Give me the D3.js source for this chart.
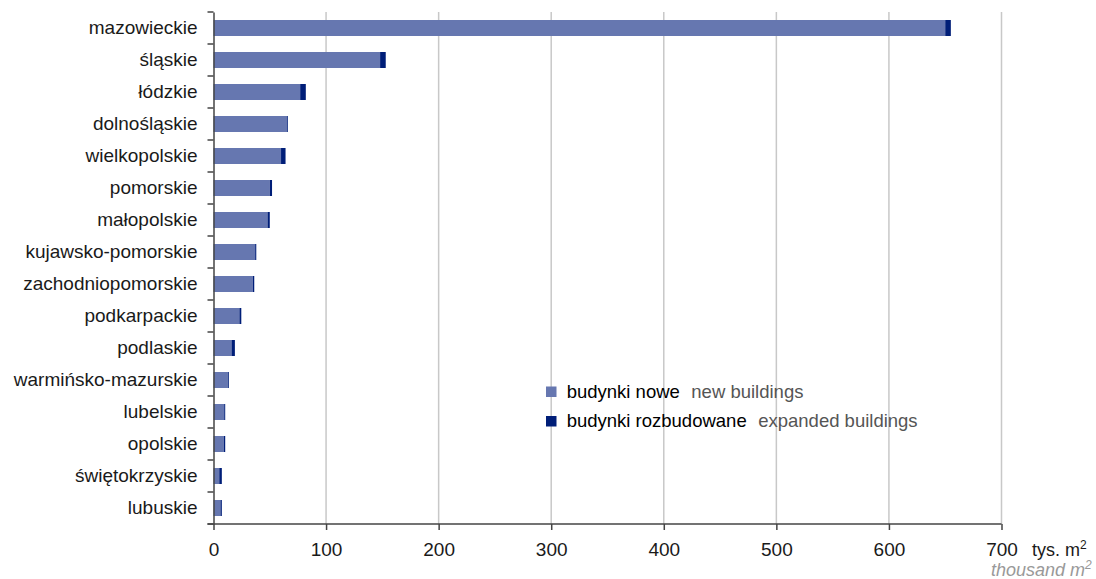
<!DOCTYPE html>
<html>
<head>
<meta charset="utf-8">
<script src="https://cdn.jsdelivr.net/npm/d3@7"></script>
<style>
  body { margin: 0; background: #fff; }
  svg { display: block; font-family: "Liberation Sans", Arial, sans-serif; }
</style>
</head>
<body>
<div id="chart"></div>
<script>
// voivodeships, top to bottom
let regions = ["mazowieckie", "śląskie", "łódzkie", "dolnośląskie", "wielkopolskie",
    "pomorskie", "małopolskie", "kujawsko-pomorskie", "zachodniopomorskie", "podkarpackie",
    "podlaskie", "warmińsko-mazurskie", "lubelskie", "opolskie", "świętokrzyskie", "lubuskie"];
// tys. m2
let newBuildings = [650, 148, 77, 65, 60, 50, 48, 37, 35, 23, 16, 12.7, 9.5, 9.2, 5.1, 6.2];
let expandedBuildings = [5, 5, 5, 1, 4, 2, 2, 1, 1.2, 1.7, 3, 0.9, 0.9, 1.2, 2.3, 1.2];
let xTicks = [0, 100, 200, 300, 400, 500, 600, 700];

let legendItems = [
    {pl: "budynki nowe", en: "new buildings", color: "#6677b0"},
    {pl: "budynki rozbudowane", en: "expanded buildings", color: "#001e78"}
];

let W = 1096, H = 579;
let margin = {top: 12, right: 94.5, bottom: 55, left: 213.5};
let width = W - margin.left - margin.right;
let height = H - margin.top - margin.bottom;
let fontSize = 19;

let svg = d3.select("#chart").append("svg")
    .attr("width", W)
    .attr("height", H);

let g = svg.append("g")
    .attr("transform", "translate(" + margin.left + "," + margin.top + ")");

let x = d3.scaleLinear().domain([0, 700]).range([0, width]);
let y = d3.scaleBand().domain(regions).range([0, height]).paddingInner(0.5).paddingOuter(0.25);

// gridlines
g.selectAll(".grid")
    .data(xTicks.slice(1))
    .enter()
    .append("line")
    .attr("x1", d => x(d)).attr("x2", d => x(d))
    .attr("y1", 0).attr("y2", height)
    .attr("stroke", "#c8c8c8")
    .attr("stroke-width", 1.5);

let rows = regions.map(function(r, i) {
    return {name: r, nowe: newBuildings[i], rozb: expandedBuildings[i]};
});

// new buildings
g.selectAll(".bar-new")
    .data(rows)
    .enter()
    .append("rect")
    .attr("x", x(0))
    .attr("y", d => y(d.name))
    .attr("width", d => x(d.nowe) - x(0))
    .attr("height", y.bandwidth())
    .attr("fill", legendItems[0].color);

// expanded buildings, stacked on the right
g.selectAll(".bar-exp")
    .data(rows)
    .enter()
    .append("rect")
    .attr("x", d => x(d.nowe))
    .attr("y", d => y(d.name))
    .attr("width", d => x(d.nowe + d.rozb) - x(d.nowe))
    .attr("height", y.bandwidth())
    .attr("fill", legendItems[1].color);

// y axis
let yAxis = g.append("g")
    .call(d3.axisLeft(y).tickSize(0).tickPadding(16).tickSizeOuter(0));
yAxis.select(".domain").attr("stroke", "#444").attr("stroke-width", 1.5);
yAxis.selectAll("text").attr("font-size", fontSize).attr("fill", "#1a1a1a")
    .attr("font-family", "Liberation Sans, Arial, sans-serif");

// tick marks between categories
let bounds = d3.range(regions.length + 1).map(i => i * height / regions.length);
g.selectAll(".ytick")
    .data(bounds)
    .enter()
    .append("line")
    .attr("x1", -6).attr("x2", 0)
    .attr("y1", d => d).attr("y2", d => d)
    .attr("stroke", "#444")
    .attr("stroke-width", 1.5);

// x axis
let xAxis = g.append("g")
    .attr("transform", "translate(0," + height + ")")
    .call(d3.axisBottom(x).tickValues(xTicks).tickSize(6).tickPadding(13).tickSizeOuter(0));
xAxis.select(".domain").attr("stroke", "#444").attr("stroke-width", 1.5)
    .attr("d", "M-6,0H" + width);
xAxis.selectAll(".tick line").attr("stroke", "#444").attr("stroke-width", 1.5);
xAxis.selectAll("text").attr("font-size", fontSize).attr("fill", "#1a1a1a")
    .attr("font-family", "Liberation Sans, Arial, sans-serif");

// unit label
let unit = svg.append("text")
    .attr("x", 1032).attr("y", 556)
    .attr("font-size", 18).attr("fill", "#1a1a1a");
unit.append("tspan").text("tys. m");
unit.append("tspan").text("2").attr("font-size", 12).attr("dy", -7);

let unitEn = svg.append("text")
    .attr("x", 991).attr("y", 576)
    .attr("font-size", 18).attr("font-style", "italic").attr("fill", "#999");
unitEn.append("tspan").text("thousand m");
unitEn.append("tspan").text("2").attr("font-size", 12).attr("dy", -7);

// legend
let legend = svg.append("g").attr("transform", "translate(546,386.5)");
let li = legend.selectAll(".li")
    .data(legendItems)
    .enter()
    .append("g")
    .attr("transform", (d, i) => "translate(0," + i * 29.5 + ")");
li.append("rect").attr("width", 10.5).attr("height", 10.5).attr("fill", d => d.color);
let lt = li.append("text").attr("x", 20.7).attr("y", 11).attr("font-size", 18.5);
lt.append("tspan").text(d => d.pl).attr("fill", "#000");
lt.append("tspan").text(d => d.en).attr("dx", 11.5).attr("fill", "#555");
</script>
</body>
</html>
